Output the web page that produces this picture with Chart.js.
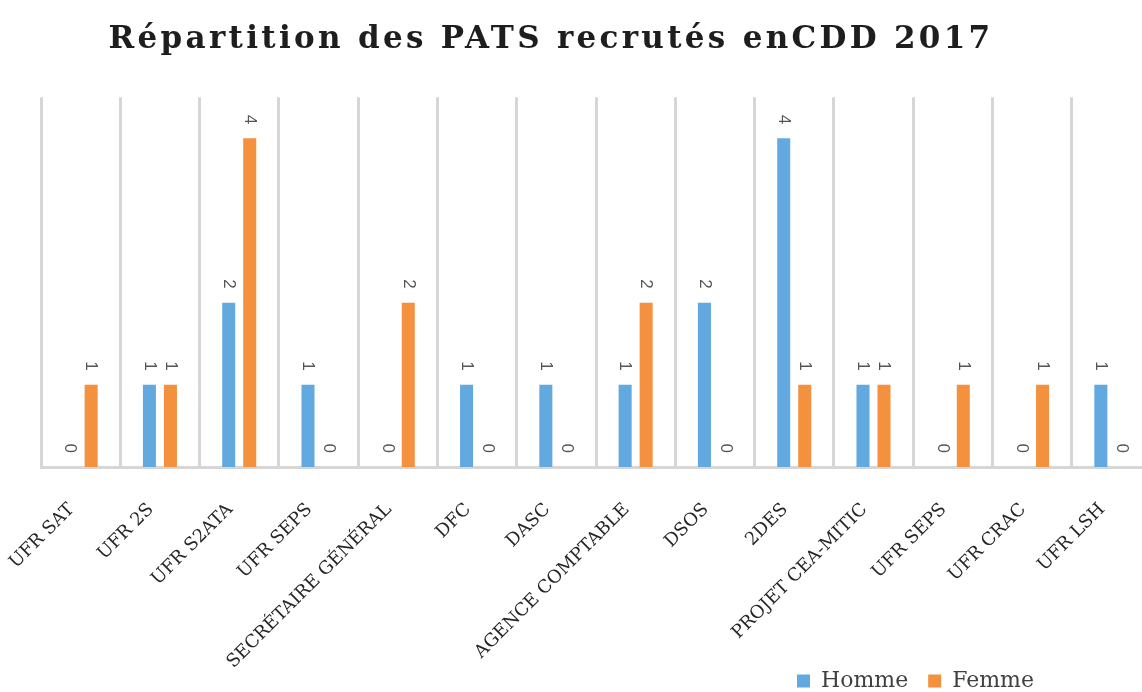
<!DOCTYPE html>
<html>
<head>
<meta charset="utf-8">
<script src="https://cdn.jsdelivr.net/npm/chart.js@4/dist/chart.umd.min.js"></script>
<style>
  html, body { margin: 0; padding: 0; background: #ffffff; overflow: hidden; }
  #wrap { width: 1142px; height: 692px; overflow: hidden; position: relative; }
  canvas { display: block; }
</style>
</head>
<body>
<div id="wrap"><canvas id="c" width="1160" height="692"></canvas></div>
<script>
const chartTitle = 'Répartition des PATS recrutés enCDD 2017';
const categories = ['UFR SAT', 'UFR 2S', 'UFR S2ATA', 'UFR SEPS', 'SECRÉTAIRE GÉNÉRAL', 'DFC', 'DASC',
  'AGENCE COMPTABLE', 'DSOS', '2DES', 'PROJET CEA-MITIC', 'UFR SEPS', 'UFR CRAC', 'UFR LSH'];
const seriesNames = ['Homme', 'Femme'];
const hommeValues = [0, 1, 2, 1, 0, 1, 1, 1, 2, 4, 1, 0, 0, 1];
const femmeValues = [1, 1, 4, 0, 2, 0, 0, 2, 0, 1, 1, 1, 1, 0];
const yMin = 0;
const yMax = 4.5;

const PLOT_BOTTOM = 467;
const CANVAS_H = 692;

const barLabels = {
  id: 'barLabels',
  afterDatasetsDraw(chart) {
    const ctx = chart.ctx;
    ctx.save();
    ctx.font = '17px "Liberation Sans", Arial, sans-serif';
    ctx.fillStyle = '#555555';
    ctx.textAlign = 'right';
    ctx.textBaseline = 'middle';
    chart.data.datasets.forEach((ds, di) => {
      const meta = chart.getDatasetMeta(di);
      meta.data.forEach((bar, i) => {
        ctx.save();
        ctx.translate(bar.x, bar.y - 14);
        ctx.rotate(Math.PI / 2);
        ctx.fillText(String(ds.data[i]), 0, 0);
        ctx.restore();
      });
    });
    ctx.restore();
  }
};

const placeBoxes = {
  id: 'placeBoxes',
  afterLayout(chart) {
    const tb = chart.titleBlock;
    if (tb) {
      tb.left = 0; tb.right = 1102;
      if (!tb._lsWrapped) {
        const orig = tb.draw.bind(tb);
        tb.draw = function () {
          const c = this.ctx;
          const prev = c.letterSpacing;
          c.letterSpacing = '3.3px';
          orig();
          c.letterSpacing = prev || '0px';
        };
        tb._lsWrapped = true;
      }
    }
    const x = chart.scales.x;
    if (x) { x.bottom = CANVAS_H; }
    const lg = chart.legend;
    if (lg) {
      const h = lg.height;
      const pad = lg.options.labels.padding;
      lg.left = 797 - pad;
      lg.right = 1140;
      lg.top = 676 - h / 2;
      lg.bottom = lg.top + h;
    }
  }
};

new Chart(document.getElementById('c'), {
  type: 'bar',
  data: {
    labels: categories,
    datasets: [
      { label: seriesNames[0], data: hommeValues, backgroundColor: '#62A9E0', borderWidth: 0,
        categoryPercentage: 0.53, barPercentage: 0.62 },
      { label: seriesNames[1], data: femmeValues, backgroundColor: '#F4913E', borderWidth: 0,
        categoryPercentage: 0.53, barPercentage: 0.62 }
    ]
  },
  options: {
    responsive: false,
    animation: false,
    devicePixelRatio: 1,
    layout: { padding: { left: 41, right: 9, top: 0, bottom: 0 } },
    plugins: {
      title: {
        display: true,
        text: chartTitle,
        color: '#1e1e1e',
        font: { family: '"DejaVu Serif", serif', size: 31, weight: 'bold' },
        padding: { top: 21, bottom: 39 }
      },
      legend: {
        display: true,
        position: 'bottom',
        align: 'start',
        labels: {
          boxWidth: 13,
          boxHeight: 13,
          padding: 20,
          color: '#404040',
          font: { family: '"DejaVu Serif", serif', size: 22 }
        }
      },
      tooltip: { enabled: false }
    },
    scales: {
      x: {
        offset: true,
        grid: { display: true, offset: true, color: '#d6d6d6', lineWidth: 3, drawTicks: false },
        border: { display: true, color: '#d6d6d6', width: 3 },
        ticks: {
          autoSkip: false,
          minRotation: 45,
          maxRotation: 45,
          padding: 32,
          labelOffset: -9,
          color: '#262626',
          font: { family: '"DejaVu Serif", serif', size: 18 }
        },
        afterFit(scale) {
          const lgH = scale.chart.legend ? scale.chart.legend.height : 0;
          scale.height = CANVAS_H - PLOT_BOTTOM - lgH;
          scale.paddingLeft = 0;
          scale.paddingRight = 0;
        }
      },
      y: {
        display: false,
        min: yMin,
        max: yMax
      }
    }
  },
  plugins: [barLabels, placeBoxes]
});
</script>
</body>
</html>
